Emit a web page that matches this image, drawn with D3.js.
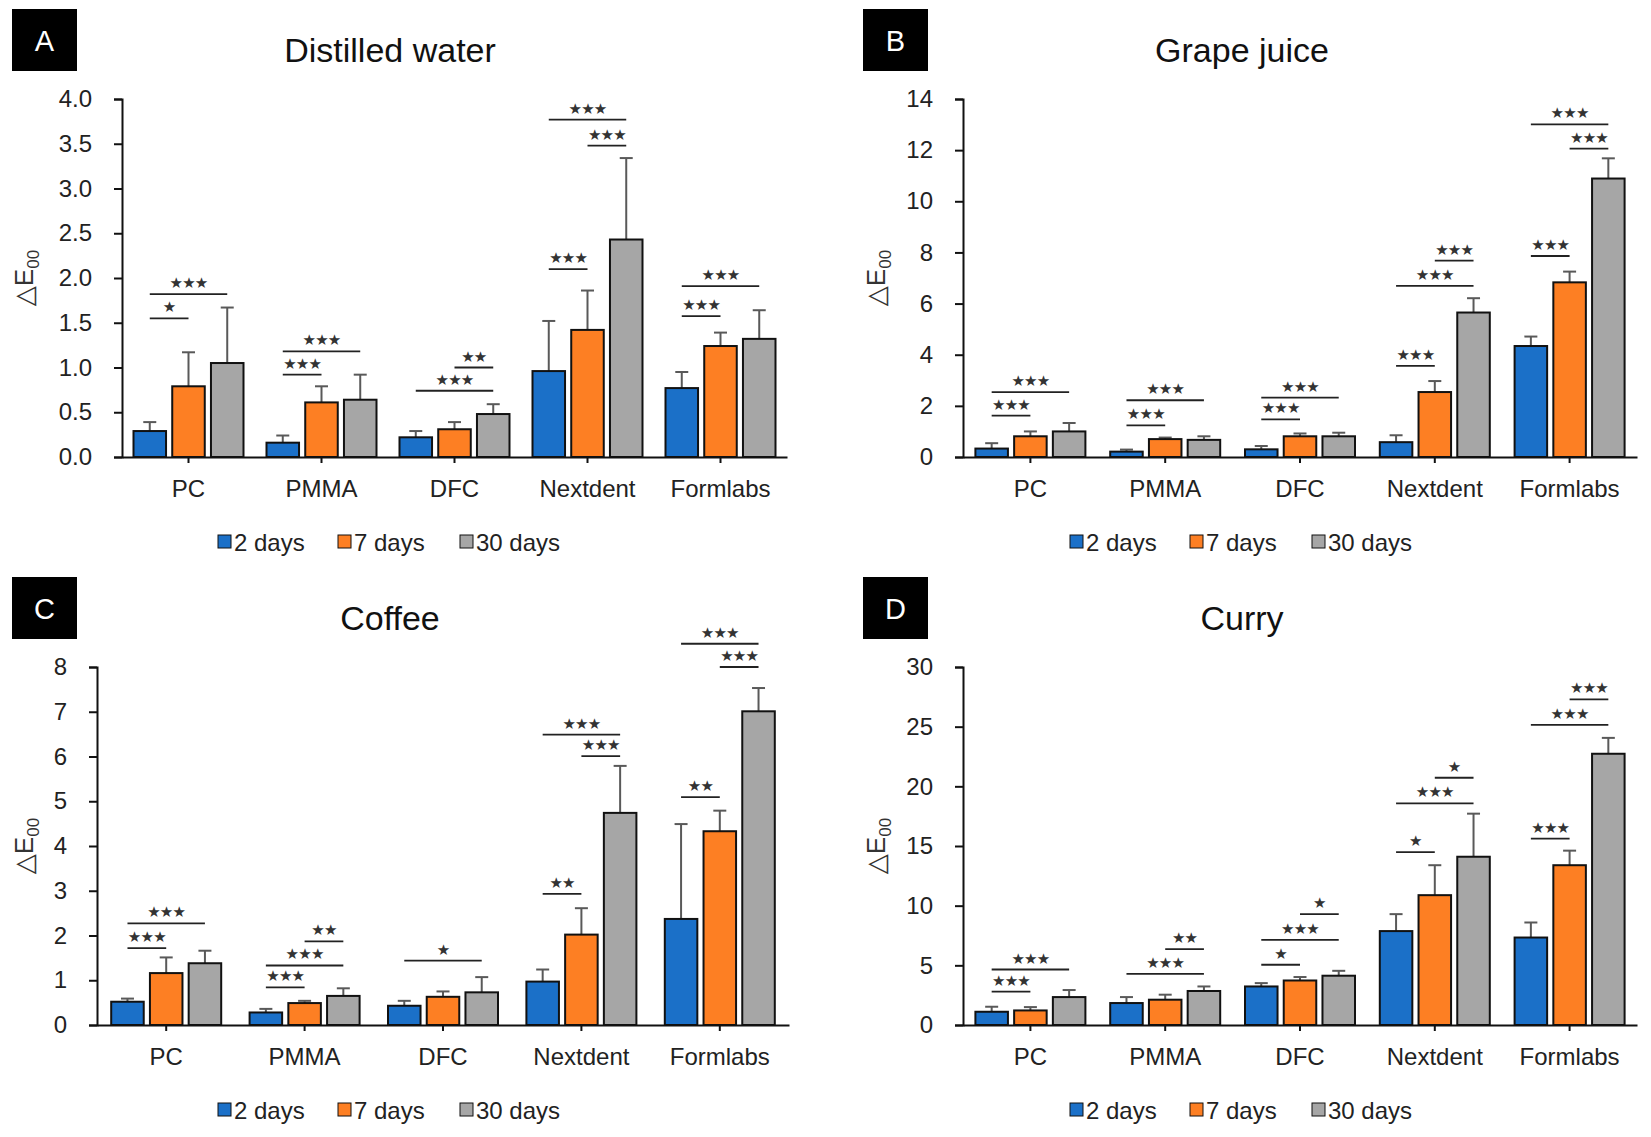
<!DOCTYPE html>
<html>
<head>
<meta charset="utf-8">
<script src="https://cdn.jsdelivr.net/npm/d3@7"></script>
<style>
  body { margin: 0; background: #fff; }
  svg { display: block; font-family: "Liberation Sans", Arial, sans-serif; }
</style>
</head>
<body>
<svg id="chart" width="1651" height="1137"></svg>
<script>
const categories = ["PC", "PMMA", "DFC", "Nextdent", "Formlabs"];
const seriesNames = ["2 days", "7 days", "30 days"];

// mean ΔE00 per category: [2 days, 7 days, 30 days]
const waterMean = [[0.29, 0.79, 1.05], [0.16, 0.61, 0.64], [0.22, 0.31, 0.48], [0.96, 1.42, 2.43], [0.77, 1.24, 1.32]];
const waterSD = [[0.10, 0.38, 0.62], [0.08, 0.18, 0.28], [0.07, 0.08, 0.11], [0.56, 0.44, 0.91], [0.18, 0.15, 0.32]];
const grapeMean = [[0.33, 0.81, 1.00], [0.21, 0.70, 0.67], [0.30, 0.81, 0.81], [0.58, 2.54, 5.65], [4.34, 6.83, 10.89]];
const grapeSD = [[0.21, 0.19, 0.33], [0.08, 0.06, 0.14], [0.13, 0.11, 0.14], [0.27, 0.43, 0.56], [0.37, 0.42, 0.79]];
const coffeeMean = [[0.52, 1.16, 1.38], [0.28, 0.49, 0.65], [0.43, 0.63, 0.73], [0.97, 2.02, 4.74], [2.37, 4.33, 7.01]];
const coffeeSD = [[0.07, 0.35, 0.28], [0.08, 0.05, 0.17], [0.11, 0.12, 0.34], [0.27, 0.59, 1.05], [2.12, 0.46, 0.52]];
const curryMean = [[1.11, 1.22, 2.34], [1.84, 2.12, 2.85], [3.23, 3.73, 4.13], [7.87, 10.88, 14.10], [7.33, 13.39, 22.73]];
const currySD = [[0.42, 0.28, 0.59], [0.50, 0.42, 0.38], [0.28, 0.29, 0.41], [1.42, 2.51, 3.61], [1.26, 1.22, 1.33]];

// significance: [category, from series, to series, bracket level, number of stars]
const waterSig = [
  [0, 0, 1, 1.55, 1], [0, 0, 2, 1.82, 3], [1, 0, 1, 0.92, 3], [1, 0, 2, 1.18, 3],
  [2, 0, 2, 0.74, 3], [2, 1, 2, 1.00, 2], [3, 0, 1, 2.10, 3], [3, 0, 2, 3.77, 3],
  [3, 1, 2, 3.48, 3], [4, 0, 1, 1.575, 3], [4, 0, 2, 1.91, 3]
];
const grapeSig = [
  [0, 0, 1, 1.62, 3], [0, 0, 2, 2.54, 3], [1, 0, 1, 1.24, 3], [1, 0, 2, 2.22, 3],
  [2, 0, 1, 1.475, 3], [2, 0, 2, 2.32, 3], [3, 0, 1, 3.56, 3], [3, 0, 2, 6.69, 3],
  [3, 1, 2, 7.68, 3], [4, 0, 1, 7.86, 3], [4, 0, 2, 13.01, 3], [4, 1, 2, 12.06, 3]
];
const coffeeSig = [
  [0, 0, 1, 1.72, 3], [0, 0, 2, 2.27, 3], [1, 0, 1, 0.84, 3], [1, 0, 2, 1.33, 3],
  [1, 1, 2, 1.87, 2], [2, 0, 2, 1.44, 1], [3, 0, 1, 2.93, 2], [3, 0, 2, 6.49, 3],
  [3, 1, 2, 6.01, 3], [4, 0, 1, 5.09, 2], [4, 0, 2, 8.52, 3], [4, 1, 2, 8.00, 3]
];
const currySig = [
  [0, 0, 1, 2.79, 3], [0, 0, 2, 4.65, 3], [1, 0, 2, 4.29, 3], [1, 1, 2, 6.36, 2],
  [2, 0, 1, 5.05, 1], [2, 0, 2, 7.14, 3], [2, 1, 2, 9.29, 1], [3, 0, 1, 14.48, 1],
  [3, 0, 2, 18.58, 3], [3, 1, 2, 20.72, 1], [4, 0, 1, 15.62, 3], [4, 0, 2, 25.15, 3],
  [4, 1, 2, 27.28, 3]
];

const colors = ["#1B70C8", "#FD7F23", "#A6A6A6"];
const svg = d3.select("#chart");

const panels = [
  { tag: "A", title: "Distilled water", mean: waterMean, sd: waterSD, sig: waterSig,
    yMax: 4, yStep: 0.5, fmt: d3.format(".1f"), left: 122, right: 787, dy: 0, side: 0 },
  { tag: "B", title: "Grape juice", mean: grapeMean, sd: grapeSD, sig: grapeSig,
    yMax: 14, yStep: 2, fmt: d3.format("d"), left: 963, right: 1637, dy: 0, side: 1 },
  { tag: "C", title: "Coffee", mean: coffeeMean, sd: coffeeSD, sig: coffeeSig,
    yMax: 8, yStep: 1, fmt: d3.format("d"), left: 97, right: 789, dy: 568, side: 0 },
  { tag: "D", title: "Curry", mean: curryMean, sd: currySD, sig: currySig,
    yMax: 30, yStep: 5, fmt: d3.format("d"), left: 963, right: 1637, dy: 568, side: 1 }
];

// per column: tag box x, y-label x, title centre, legend centre
const cols = [
  { tagX: 12, labelX: 33, titleX: 390, legendX: 394 },
  { tagX: 863, labelX: 885, titleX: 1242, legendX: 1246 }
];

function drawPanel(p) {
  const col = cols[p.side];
  const g = svg.append("g").attr("transform", `translate(0,${p.dy})`);

  const y = d3.scaleLinear().domain([0, p.yMax]).range([457, 99]);
  const x0 = d3.scaleBand().domain(categories).range([p.left, p.right]);
  const x1 = d3.scaleBand().domain([0, 1, 2]).range([-55, 55]).paddingInner(0.16);
  const cx = (c, s) => x0(categories[c]) + x0.bandwidth() / 2 + x1(s) + x1.bandwidth() / 2;

  // panel letter
  g.append("rect").attr("x", col.tagX).attr("y", 9).attr("width", 65).attr("height", 62).attr("fill", "#000");
  g.append("text").attr("x", col.tagX + 32.5).attr("y", 51).attr("text-anchor", "middle")
    .attr("fill", "#fff").attr("font-size", 29).text(p.tag);

  g.append("text").attr("x", col.titleX).attr("y", 62).attr("text-anchor", "middle")
    .attr("fill", "#111").attr("font-size", 34).text(p.title);

  const rows = p.mean.flatMap((vals, c) => vals.map((v, s) => ({ c, s, v, e: p.sd[c][s] })));

  // error bars (upper only)
  const err = g.append("g").attr("stroke", "#595959").attr("stroke-width", 2);
  err.selectAll("line.v").data(rows).join("line")
    .attr("x1", d => cx(d.c, d.s)).attr("x2", d => cx(d.c, d.s))
    .attr("y1", d => y(d.v)).attr("y2", d => y(d.v + d.e));
  err.selectAll("line.h").data(rows).join("line")
    .attr("x1", d => cx(d.c, d.s) - 6.5).attr("x2", d => cx(d.c, d.s) + 6.5)
    .attr("y1", d => y(d.v + d.e)).attr("y2", d => y(d.v + d.e));

  g.append("g").selectAll("rect").data(rows).join("rect")
    .attr("x", d => cx(d.c, d.s) - x1.bandwidth() / 2)
    .attr("y", d => y(d.v))
    .attr("width", x1.bandwidth())
    .attr("height", d => y(0) - y(d.v))
    .attr("fill", d => colors[d.s])
    .attr("stroke", "#111").attr("stroke-width", 2);

  // significance brackets
  const sig = g.append("g");
  sig.selectAll("line").data(p.sig).join("line")
    .attr("x1", d => cx(d[0], d[1])).attr("x2", d => cx(d[0], d[2]))
    .attr("y1", d => y(d[3])).attr("y2", d => y(d[3]))
    .attr("stroke", "#222").attr("stroke-width", 1.8);
  sig.selectAll("text").data(p.sig).join("text")
    .attr("x", d => (cx(d[0], d[1]) + cx(d[0], d[2])) / 2)
    .attr("y", d => y(d[3]) - 6)
    .attr("text-anchor", "middle")
    .attr("font-family", "DejaVu Sans")
    .attr("font-size", 15)
    .attr("letter-spacing", -0.8)
    .attr("fill", "#333")
    .text(d => "★".repeat(d[4]));

  // axes
  const yAxis = d3.axisLeft(y)
    .tickValues(d3.range(0, p.yMax + p.yStep / 2, p.yStep))
    .tickFormat(p.fmt).tickSize(8).tickPadding(22);
  const ya = g.append("g").attr("transform", `translate(${p.left},0)`).call(yAxis);

  const xAxis = d3.axisBottom(x0).tickSize(6).tickSizeOuter(0).tickPadding(17);
  const xa = g.append("g").attr("transform", `translate(0,${y(0)})`).call(xAxis);

  [ya, xa].forEach(a => {
    a.selectAll("path, line").attr("stroke", "#111").attr("stroke-width", 2);
    a.selectAll("text").attr("font-size", 24).attr("fill", "#222")
      .attr("font-family", "'Liberation Sans', Arial, sans-serif");
  });

  // y label
  const lab = g.append("text")
    .attr("transform", `translate(${col.labelX},${(y(0) + y(p.yMax)) / 2}) rotate(-90)`)
    .attr("text-anchor", "middle").attr("fill", "#333").attr("font-size", 26);
  lab.append("tspan").attr("font-family", "DejaVu Sans").text("△");
  lab.append("tspan").text("E");
  lab.append("tspan").attr("font-size", 17).attr("dy", 6).text("00");

  // legend
  const lg = g.append("g").attr("transform", `translate(${col.legendX - 176},551)`);
  const item = lg.selectAll("g").data(seriesNames).join("g")
    .attr("transform", (d, i) => `translate(${[0, 120, 242][i]},0)`);
  item.append("rect").attr("x", 0).attr("y", -16).attr("width", 13).attr("height", 13)
    .attr("fill", (d, i) => colors[i]).attr("stroke", "#111").attr("stroke-width", 1);
  item.append("text").attr("x", 16).attr("y", 0).attr("font-size", 24).attr("fill", "#222").text(d => d);
}

panels.forEach(drawPanel);
</script>
</body>
</html>
